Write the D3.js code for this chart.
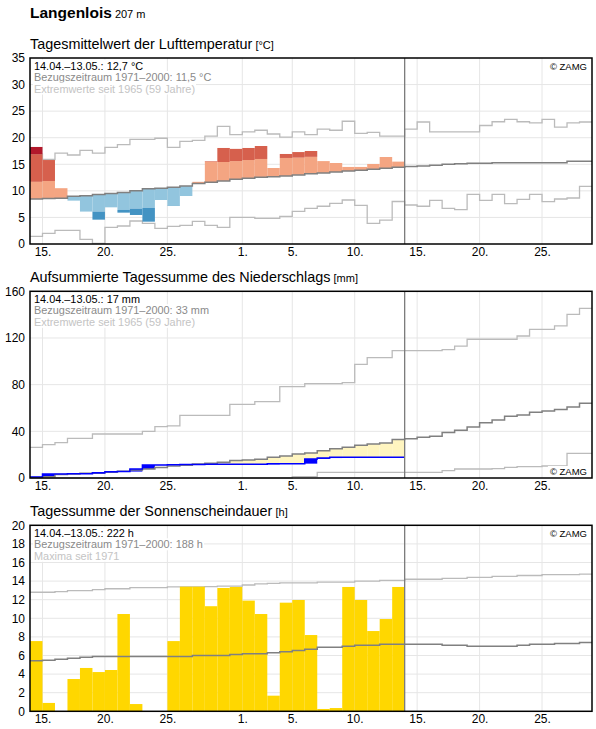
<!DOCTYPE html>
<html>
<head>
<meta charset="utf-8">
<script src="https://cdn.jsdelivr.net/npm/d3@7"></script>
<style>
body { margin: 0; background: #fff; }
svg text { font-family: Arial, "Liberation Sans", sans-serif; }
</style>
</head>
<body>
<script>
// days 14.04. - 28.05. (45 days), observations 14.04. - 13.05. (30 days)
const startDay = new Date(Date.UTC(2024, 3, 14));
const endDay = new Date(Date.UTC(2024, 4, 29));
const obsEnd = new Date(Date.UTC(2024, 4, 14));

const xTickDates = ['2024-04-15', '2024-04-20', '2024-04-25', '2024-05-01', '2024-05-05', '2024-05-10', '2024-05-15', '2024-05-20', '2024-05-25'];
const xTickLabels = ['15.', '20.', '25.', '1.', '5.', '10.', '15.', '20.', '25.'];

const tempTicks = [0, 5, 10, 15, 20, 25, 30, 35];
const precipTicks = [0, 40, 80, 120, 160];
const sunTicks = [0, 2, 4, 6, 8, 10, 12, 14, 16, 18, 20];

// temperature
const tempObs = [18.26, 15.8, 10.5, 8.16, 6.1, 4.58, 6.9, 5.9, 5.46, 4.2, 8.28, 7.15, 9.03, 11.7, 15.6,
  18.07, 17.9, 18.07, 18.44, 14.3, 16.94, 17.3, 17.5, 15.6, 15.24, 14.5, 14.5, 15.06, 16.37, 15.5];
const tempHi = [11.7, 11.86, 11.9, 12.2, 12.4, 12.5, 12.7, 12.9, 13.2, 13.6, 13.7, 13.9, 14.1, 14.6, 15.5,
  15.43, 15.6, 15.8, 16.0, 16.1, 16.19, 16.25, 16.4, 16.6, 16.8, 17.0, 17.1, 17.3, 17.5, 17.7];
const tempLo = [5.3, 5.4, 5.5, 5.7, 5.9, 6.1, 6.2, 6.4, 6.65, 6.8, 7.0, 7.2, 7.4, 7.9, 8.1,
  8.4, 8.7, 8.9, 9.1, 9.2, 9.4, 9.6, 9.8, 10.0, 10.2, 10.4, 10.5, 10.7, 10.9, 11.1];
const tempMean = [8.47, 8.55, 8.6, 8.97, 9.1, 9.3, 9.5, 9.7, 10.0, 10.4, 10.5, 10.7, 10.9, 11.4, 11.6,
  11.86, 12.2, 12.36, 12.55, 12.67, 12.8, 13.0, 13.2, 13.36, 13.55, 13.74, 13.86, 14.05, 14.24, 14.43,
  14.6, 14.68, 14.8, 15.0, 15.1, 15.2, 15.2, 15.3, 15.3, 15.3, 15.3, 15.3, 15.3, 15.56, 15.56];
const tempMax = [16.9, 15.9, 17.1, 16.75, 17.6, 17.1, 18.2, 18.7, 19.7, 19.7, 19.9, 18.2, 19.3, 19.5, 20.3,
  22.15, 20.6, 21.1, 21.4, 20.7, 20.1, 21.1, 20.6, 21.6, 21.4, 23.1, 20.8, 21.0, 20.3, 20.3,
  21.6, 22.96, 21.1, 21.1, 21.1, 21.1, 22.3, 23.0, 23.46, 23.0, 22.8, 23.46, 22.0, 22.8, 22.96];
const tempMin = [1.44, 2.0, 2.57, 2.57, 0.88, 0.13, 3.14, 3.39, 4.33, 3.89, 2.95, 3.3, 3.5, 4.27, 3.5,
  3.14, 5.0, 5.0, 4.83, 4.83, 5.2, 6.15, 6.7, 7.1, 7.65, 8.28, 7.28, 3.89, 4.5, 8.0,
  7.34, 7.1, 8.2, 6.7, 6.46, 9.35, 8.2, 9.35, 7.6, 8.4, 9.35, 7.97, 8.47, 8.66, 10.85];

// precipitation, accumulated
const precipObs = [0.9, 3.4, 3.4, 3.6, 3.6, 4.4, 5.3, 5.5, 7.7, 11.1, 11.2, 11.3, 11.5, 11.6, 11.7,
  11.7, 11.7, 11.7, 11.7, 12.3, 12.3, 12.3, 16.3, 17.1, 17.7, 17.7, 17.7, 17.7, 17.7, 17.7];
const precipMean = [0.5, 1.1, 2.9, 3.4, 4.0, 4.6, 5.1, 5.7, 6.9, 7.7, 9.1, 10.3, 10.9, 12.0, 12.6,
  13.4, 14.9, 15.4, 16.0, 17.7, 18.9, 20.6, 21.4, 23.4, 25.1, 26.3, 28.0, 29.1, 30.0, 33.1,
  33.7, 34.9, 35.7, 38.9, 40.9, 43.7, 47.4, 49.7, 52.9, 54.0, 56.3, 57.4, 58.6, 60.9, 64.0];
const precipMax = [26.3, 28.6, 30.3, 34, 34, 37.7, 37.7, 37.7, 37.7, 40, 44, 44.6, 53.7, 53.7, 53.7,
  53.7, 63.1, 63.1, 65.4, 65.4, 78.3, 78.3, 80.9, 80.9, 80.9, 81.7, 97.4, 103.1, 103.1, 109.1,
  109.1, 109.1, 109.1, 110, 113, 118.9, 118.9, 118.9, 118.9, 121.7, 127.4, 127.4, 130.3, 140.3, 145.4];
const precipMin = [0, 0, 0, 0, 0, 0, 0, 0, 0, 0, 0, 0, 0, 0, 0,
  0, 0, 0, 0, 0, 0, 1.1, 1.1, 4.9, 4.9, 4.9, 4.9, 4.9, 4.9, 4.9,
  4.9, 4.9, 4.9, 6.3, 7.7, 7.7, 7.7, 8.0, 9.1, 9.7, 9.7, 10.3, 10.3, 21.1, 21.1];

// sunshine duration
const sunObs = [7.55, 0.9, 0, 3.47, 4.66, 4.22, 4.44, 10.46, 0.78, 0, 0, 7.55, 13.4, 13.4, 11.3,
  13.26, 13.37, 11.9, 10.46, 1.68, 11.68, 11.97, 8.2, 0.25, 0.35, 13.37, 11.97, 8.63, 9.92, 13.37];
const sunMean = [5.44, 5.5, 5.6, 5.7, 5.8, 5.9, 5.9, 5.9, 5.9, 5.9, 5.9, 5.9, 5.9, 6.0, 6.0,
  6.0, 6.1, 6.2, 6.2, 6.3, 6.4, 6.55, 6.66, 6.9, 6.9, 7.0, 7.1, 7.1, 7.2, 7.2,
  7.2, 7.2, 7.2, 7.1, 7.1, 7.0, 7.0, 7.0, 7.0, 7.1, 7.2, 7.2, 7.3, 7.3, 7.4];
const sunMax = [12.8, 12.8, 12.87, 12.97, 12.97, 13.08, 13.18, 13.18, 13.3, 13.3, 13.3, 13.37, 13.37, 13.37, 13.4,
  13.47, 13.47, 13.58, 13.7, 13.76, 13.8, 13.8, 13.8, 13.9, 13.9, 13.9, 14.0, 14.0, 14.07, 14.07,
  14.2, 14.2, 14.2, 14.3, 14.3, 14.4, 14.4, 14.5, 14.5, 14.6, 14.6, 14.7, 14.7, 14.7, 14.76];

const left = 30, right = 592;
const font = 'Arial, "Liberation Sans", sans-serif';

let x = d3.scaleUtc()
  .domain([startDay, endDay])
  .range([left, right]);

const dayAt = i => d3.utcDay.offset(startDay, i);

let svg = d3.select('body').append('svg')
  .attr('width', 596)
  .attr('height', 729);

let head = svg.append('text')
  .attr('x', 30)
  .attr('y', 18)
  .attr('fill', '#000');
head.append('tspan').text('Langenlois').attr('font-weight', 'bold').attr('font-size', '15.5px');
head.append('tspan').text(' 207 m').attr('font-size', '11px');

// step line through daily values
let stepLine = (g, vals, y, color, width) => {
  let pts = vals.map((v, i) => ({d: dayAt(i), v: v}));
  pts.push({d: dayAt(vals.length), v: vals[vals.length - 1]});
  g.append('path')
    .datum(pts)
    .attr('fill', 'none')
    .attr('stroke', color)
    .attr('stroke-width', width)
    .attr('d', d3.line().x(d => x(d.d)).y(d => y(d.v)).curve(d3.curveStepAfter));
};

let band = (g, i, v0, v1, y, color) => {
  g.append('rect')
    .attr('x', x(dayAt(i)))
    .attr('width', x(dayAt(i + 1)) - x(dayAt(i)))
    .attr('y', y(Math.max(v0, v1)))
    .attr('height', Math.abs(y(v0) - y(v1)))
    .attr('fill', color);
};

let makePanel = (p) => {
  let y = d3.scaleLinear().domain([0, p.ticks[p.ticks.length - 1]]).range([p.bottom, p.top]);

  let title = svg.append('text')
    .attr('x', 30)
    .attr('y', p.top - 9.5)
    .attr('fill', '#000');
  title.append('tspan').text(p.title).attr('font-size', '14.4px');
  title.append('tspan').text(' ' + p.unit).attr('font-size', '11px');

  let g = svg.append('g');

  // grid
  g.selectAll('.hgrid').data(p.ticks.slice(1, -1)).enter().append('line')
    .attr('x1', left).attr('x2', right)
    .attr('y1', d => y(d)).attr('y2', d => y(d))
    .attr('stroke', '#e6e6e6');
  g.selectAll('.vgrid').data(xTickDates).enter().append('line')
    .attr('x1', d => x(new Date(d))).attr('x2', d => x(new Date(d)))
    .attr('y1', p.top).attr('y2', p.bottom)
    .attr('stroke', '#e6e6e6');

  p.draw(g, y);

  // end of observation period
  g.append('line')
    .attr('x1', x(obsEnd)).attr('x2', x(obsEnd))
    .attr('y1', p.top).attr('y2', p.bottom)
    .attr('stroke', '#7a7a7a')
    .attr('stroke-width', 1.3);

  // legend with white background
  let legColors = ['#000', '#8a8a8a', '#c4c4c4'];
  p.legend.forEach((t, i) => {
    let txt = g.append('text')
      .attr('x', 34)
      .attr('y', p.top + 11.5 + i * 11.5)
      .attr('font-size', '10.9px')
      .attr('fill', legColors[i])
      .text(t);
    let bb = txt.node().getBBox();
    g.insert('rect', () => txt.node())
      .attr('x', bb.x - 1).attr('y', bb.y)
      .attr('width', bb.width + 2).attr('height', bb.height)
      .attr('fill', '#fff');
  });

  let zamg = g.append('text')
    .attr('x', 587)
    .attr('y', p.zamgTop ? p.top + 11.5 : p.bottom - 3)
    .attr('text-anchor', 'end')
    .attr('font-size', '9.5px')
    .attr('fill', '#000')
    .text('© ZAMG');
  let zb = zamg.node().getBBox();
  g.insert('rect', () => zamg.node())
    .attr('x', zb.x - 2).attr('y', zb.y)
    .attr('width', zb.width + 4).attr('height', zb.height)
    .attr('fill', '#fff');

  // frame
  g.append('rect')
    .attr('x', left).attr('y', p.top)
    .attr('width', right - left).attr('height', p.bottom - p.top)
    .attr('fill', 'none')
    .attr('stroke', '#000')
    .attr('stroke-width', 1.5);

  // axes
  let yaxis = svg.append('g')
    .attr('transform', 'translate(' + left + ',0)')
    .call(d3.axisLeft(y).tickValues(p.ticks).tickSize(0).tickPadding(5));
  yaxis.select('.domain').remove();
  yaxis.selectAll('text').attr('font-size', '12px').attr('font-family', font).attr('fill', '#000');

  let xaxis = svg.append('g')
    .attr('transform', 'translate(0,' + p.bottom + ')')
    .call(d3.axisBottom(x).tickValues(xTickDates.map(d => new Date(d))).tickSize(0).tickPadding(3.5)
      .tickFormat((d, i) => xTickLabels[i]));
  xaxis.select('.domain').remove();
  xaxis.selectAll('text').attr('font-size', '12px').attr('font-family', font).attr('fill', '#000');
};

makePanel({
  top: 58, bottom: 244, ticks: tempTicks,
  title: 'Tagesmittelwert der Lufttemperatur', unit: '[°C]',
  legend: ['14.04.–13.05.: 12,7 °C', 'Bezugszeitraum 1971–2000: 11,5 °C', 'Extremwerte seit 1965 (59 Jahre)'],
  zamgTop: true,
  draw: (g, y) => {
    stepLine(g, tempMax, y, '#bbbbbb', 1.3);
    stepLine(g, tempMin, y, '#bbbbbb', 1.3);
    tempObs.forEach((o, i) => {
      let m = tempMean[i];
      if (o > m) {
        band(g, i, m, Math.min(o, tempHi[i]), y, '#f4a582');
        if (o > tempHi[i]) band(g, i, tempHi[i], Math.min(o, tempMax[i]), y, '#d6604d');
        if (o > tempMax[i]) band(g, i, tempMax[i], o, y, '#b2182b');
      } else {
        band(g, i, Math.max(o, tempLo[i]), m, y, '#92c5de');
        if (o < tempLo[i]) band(g, i, o, tempLo[i], y, '#4393c3');
      }
    });
    stepLine(g, tempMean, y, '#808080', 1.5);
  }
});

makePanel({
  top: 291.3, bottom: 478, ticks: precipTicks,
  title: 'Aufsummierte Tagessumme des Niederschlags', unit: '[mm]',
  legend: ['14.04.–13.05.: 17 mm', 'Bezugszeitraum 1971–2000: 33 mm', 'Extremwerte seit 1965 (59 Jahre)'],
  zamgTop: false,
  draw: (g, y) => {
    stepLine(g, precipMax, y, '#bbbbbb', 1.3);
    stepLine(g, precipMin, y, '#bbbbbb', 1.3);
    precipObs.forEach((o, i) => {
      if (precipMean[i] > o) band(g, i, o, precipMean[i], y, '#fff5c0');
      let prev = i === 0 ? 0 : precipObs[i - 1];
      if (o > prev) band(g, i, prev, o, y, '#0000ff');
    });
    stepLine(g, precipMean, y, '#808080', 1.5);
    stepLine(g, precipObs, y, '#0000ff', 1.5);
  }
});

makePanel({
  top: 525.3, bottom: 711.3, ticks: sunTicks,
  title: 'Tagessumme der Sonnenscheindauer', unit: '[h]',
  legend: ['14.04.–13.05.: 222 h', 'Bezugszeitraum 1971–2000: 188 h', 'Maxima seit 1971'],
  zamgTop: true,
  draw: (g, y) => {
    stepLine(g, sunMax, y, '#bbbbbb', 1.3);
    sunObs.forEach((o, i) => {
      if (o > 0) band(g, i, 0, o, y, '#ffd700');
    });
    stepLine(g, sunMean, y, '#808080', 1.5);
  }
});
</script>
</body>
</html>
